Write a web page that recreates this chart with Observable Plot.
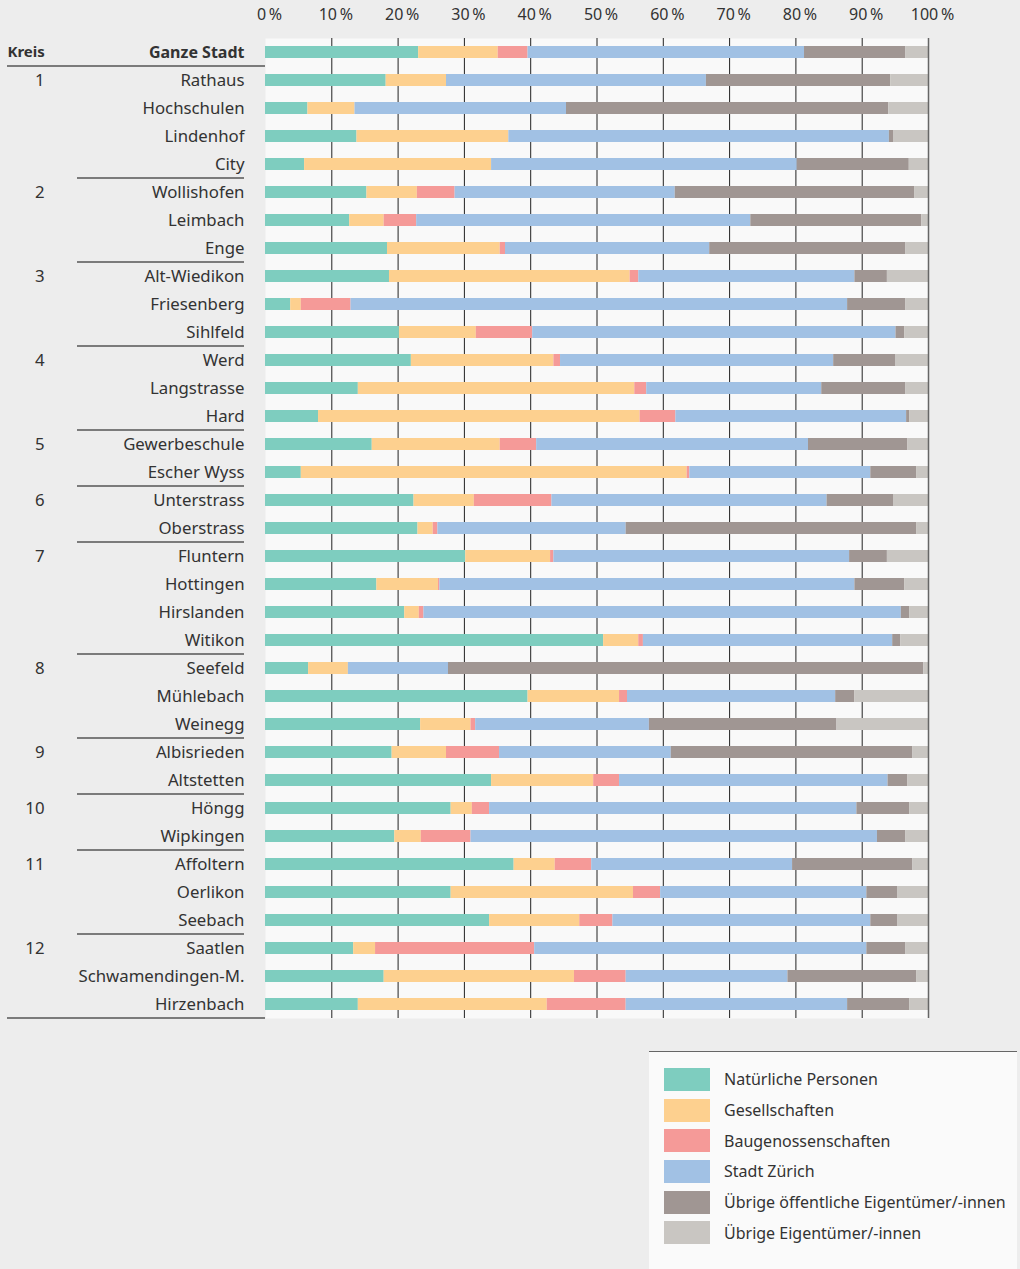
<!DOCTYPE html>
<html>
<head>
<meta charset="utf-8">
<script src="https://cdn.jsdelivr.net/npm/d3@7"></script>
<script src="https://cdn.jsdelivr.net/npm/@observablehq/plot@0.6"></script>
<style>
  html, body { margin: 0; padding: 0; background: #ededed; }
  body { width: 1020px; height: 1269px; overflow: hidden; font-family: "Noto Sans", sans-serif; color: #333; }
  #chart svg { display: block; }
  #legend { margin-left: 649px; margin-top: 31px; width: 368px; height: 240px; background: #fafafa; border-top: 1.5px solid #666; box-sizing: border-box; padding: 12px 0 0 15px; }
  .item { display: flex; align-items: center; height: 30.7px; }
  .sw { width: 46px; height: 23px; margin-right: 14px; flex: none; }
  .lbl { font-size: 16px; color: #333; }
</style>
</head>
<body>
<div id="chart"></div>
<div id="legend"></div>
<script>
const categories = ["Natürliche Personen","Gesellschaften","Baugenossenschaften","Stadt Zürich","Übrige öffentliche Eigentümer/-innen","Übrige Eigentümer/-innen"];
const colors = ["#7ecdbf","#fdd08f","#f59a98","#a1c1e4","#a09693","#c9c6c2"];

const quarters = ["Ganze Stadt","Rathaus","Hochschulen","Lindenhof","City","Wollishofen","Leimbach","Enge","Alt-Wiedikon","Friesenberg","Sihlfeld","Werd","Langstrasse","Hard","Gewerbeschule","Escher Wyss","Unterstrass","Oberstrass","Fluntern","Hottingen","Hirslanden","Witikon","Seefeld","Mühlebach","Weinegg","Albisrieden","Altstetten","Höngg","Wipkingen","Affoltern","Oerlikon","Seebach","Saatlen","Schwamendingen-M.","Hirzenbach"];
const kreis = ["","1","1","1","1","2","2","2","3","3","3","4","4","4","5","5","6","6","7","7","7","7","8","8","8","9","9","10","10","11","11","11","12","12","12"];

const natuerlich      = [23.1,18.2,6.4,13.8,5.9,15.3,12.7,18.4,18.7,3.8,20.2,22.0,14.0,8.0,16.1,5.4,22.4,23.0,30.2,16.8,21.0,51.0,6.5,39.6,23.4,19.1,34.1,28.0,19.5,37.5,28.0,33.8,13.3,17.9,14.0];
const gesellschaften  = [12.0,9.1,7.1,22.9,28.2,7.6,5.2,17.0,36.3,1.6,11.6,21.5,41.7,48.5,19.3,58.2,9.1,2.3,12.8,9.3,2.2,5.3,6.0,13.8,7.6,8.2,15.4,3.2,4.0,6.2,27.5,13.6,3.3,28.7,28.5];
const baugenossen     = [4.5,0,0,0,0,5.7,4.9,0.8,1.3,7.5,8.5,1.0,1.8,5.4,5.5,0.4,11.7,0.7,0.5,0.2,0.7,0.7,0,1.2,0.7,8.0,3.9,2.6,7.5,5.5,4.1,5.0,24.0,7.8,11.9];
const stadt           = [41.7,39.2,31.9,57.4,46.1,33.2,50.4,30.8,32.6,74.9,54.8,41.2,26.4,34.8,41.0,27.3,41.5,28.4,44.6,62.6,72.0,37.6,15.1,31.4,26.2,25.9,40.5,55.4,61.3,30.3,31.1,38.9,50.1,24.4,33.4];
const oeffentlich     = [15.3,27.8,48.6,0.7,16.9,36.1,25.8,29.6,4.9,8.8,1.3,9.4,12.7,0.5,15.0,6.9,10.1,43.8,5.7,7.5,1.3,1.2,71.7,2.9,28.3,36.4,3.0,8.0,4.3,18.1,4.7,4.1,5.9,19.4,9.4];
const uebrige         = [3.4,5.7,6.0,5.2,2.9,2.1,1.0,3.4,6.2,3.4,3.6,4.9,3.4,2.8,3.1,1.8,5.2,1.8,6.2,3.6,2.8,4.2,0.7,11.1,13.8,2.4,3.1,2.8,3.4,2.4,4.6,4.6,3.4,1.8,2.8];

const ticks = [0,10,20,30,40,50,60,70,80,90,100];

const series = [natuerlich, gesellschaften, baugenossen, stadt, oeffentlich, uebrige];
const data = [];
quarters.forEach((q, i) => {
  categories.forEach((c, j) => data.push({quarter: q, category: c, value: series[j][i]}));
});
const rows = quarters.map((q, i) => ({quarter: q, kreis: kreis[i], first: i > 0 && kreis[i] !== kreis[i - 1]}));

const font = "'Noto Sans', sans-serif";

const chart = Plot.plot({
  width: 1020,
  height: 1020,
  marginLeft: 265,
  marginRight: 92,
  marginTop: 38,
  marginBottom: 2,
  style: {background: "transparent", fontFamily: font, color: "#333", overflow: "visible"},
  x: {domain: [0, 100]},
  y: {domain: quarters, paddingInner: 0.57, paddingOuter: 0.285, axis: null},
  color: {domain: categories, range: colors},
  marks: [
    Plot.frame({fill: "#f9f9f9", stroke: null}),
    Plot.ruleX(ticks.filter(t => t > 0 && t < 100), {stroke: "#222", strokeWidth: 1}),
    Plot.barX(data, Plot.stackX({x: "value", y: "quarter", fill: "category", order: categories})),
    Plot.ruleX([0], {stroke: "#555", strokeWidth: 2, y2: 1020}),
    Plot.ruleX([100], {stroke: "#666", strokeWidth: 1.5}),
    Plot.axisX({anchor: "top", ticks, tickSize: 0, tickPadding: 19, fontSize: 16, tickFormat: d => d + "\u2009%", label: null, dx: 4}),
    Plot.text(rows.filter(r => r.quarter !== "Ganze Stadt"), {x: () => 0, y: "quarter", text: "quarter", textAnchor: "end", dx: -21, fontSize: 16.8, fill: "#333"}),
    Plot.text(rows.filter(r => r.quarter === "Ganze Stadt"), {x: () => 0, y: "quarter", text: "quarter", textAnchor: "end", dx: -21, fontSize: 16, fontWeight: "bold", fill: "#333"}),
    Plot.text(rows.filter(r => r.first), {x: () => 0, y: "quarter", text: "kreis", textAnchor: "end", dx: -221, fontSize: 16.8, fill: "#333"}),
    Plot.text(rows.filter(r => r.quarter === "Ganze Stadt"), {x: () => 0, y: "quarter", text: () => "Kreis", textAnchor: "start", dx: -258, fontSize: 15, fontWeight: "bold", fill: "#333"})
  ]
});

// separator lines in the label column, positioned with the chart's own scales
const ys = chart.scale("y");
const xs = chart.scale("x");
const x0 = xs.apply(0);
const gap = (ys.step - ys.bandwidth) / 2;
const svg = d3.select(chart);
const g = svg.append("g").attr("stroke", "#555").attr("stroke-width", 1.3);
rows.forEach((r, i) => {
  const yy = ys.apply(r.quarter) + ys.bandwidth + gap;
  let x1 = null, x2 = null;
  if (i === 0 || i === rows.length - 1) { x1 = 7; x2 = x0; }
  else if (rows[i + 1].first) { x1 = 77; x2 = x0 - 21; }
  if (x1 !== null) g.append("line").attr("x1", x1).attr("x2", x2).attr("y1", yy).attr("y2", yy);
});

document.getElementById("chart").append(chart);

const legend = d3.select("#legend");
categories.forEach((c, i) => {
  const it = legend.append("div").attr("class", "item");
  it.append("div").attr("class", "sw").style("background", colors[i]);
  it.append("div").attr("class", "lbl").text(c);
});
</script>
</body>
</html>
